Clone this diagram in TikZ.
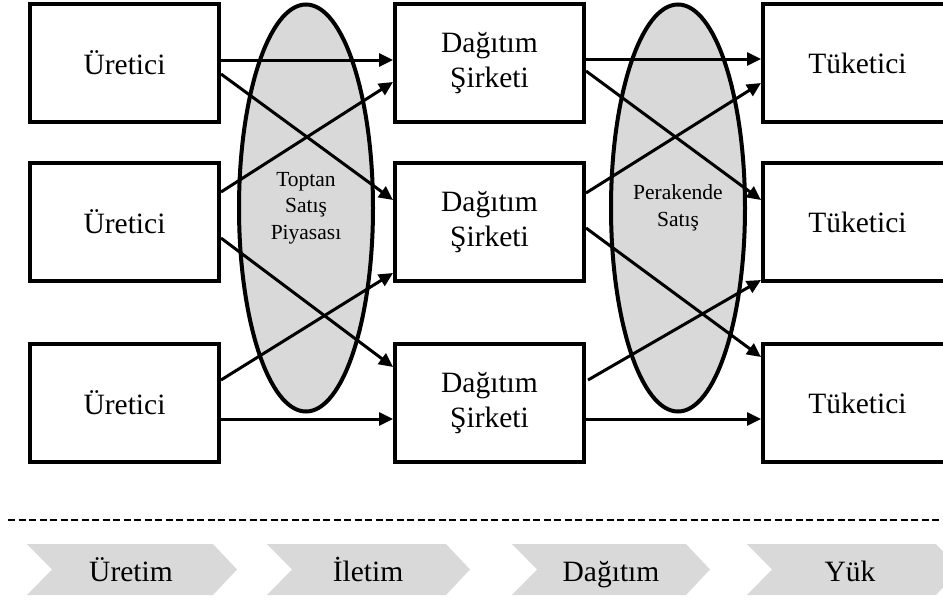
\documentclass[tikz,border=0pt]{standalone}
\usepackage{fontspec}
\setmainfont{Liberation Serif}
\usetikzlibrary{arrows.meta,shapes.geometric}
\definecolor{palegray}{RGB}{217,217,217}
\begin{document}
\begin{tikzpicture}[x=1pt,y=-1pt,
  boxnode/.style={draw, line width=4pt, fill=white, minimum width=189pt,
    minimum height=118pt, inner sep=0pt, align=center,
    font=\fontsize{29.5}{35.5}\selectfont},
  market/.style={ellipse, draw, line width=4pt, fill=palegray, minimum width=134pt,
    minimum height=407pt, inner sep=0pt, align=center,
    font=\fontsize{21.5}{26.5}\selectfont},
  flow/.style={line width=3pt, -{Triangle[length=14pt,width=13pt]}},
  stagebody/.style={fill=palegray},
  stagetext/.style={anchor=base, inner sep=0pt,
    font=\fontsize{29.5}{35.5}\selectfont}]
\clip (0,0) rectangle (943,600);

% markets between the columns
\node[market] (wholesale) at (306,208) {Toptan\\Satış\\Piyasası};
\node[market] (retail) at (678,208) {Perakende\\Satış};

% producers, distributors, consumers
\node[boxnode] (u1) at (124.5,63) {Üretici};
\node[boxnode] (u2) at (124.5,222) {Üretici};
\node[boxnode] (u3) at (124.5,403) {Üretici};
\node[boxnode] (d1) at (489.5,63) {Dağıtım\\Şirketi};
\node[boxnode] (d2) at (489.5,222) {Dağıtım\\Şirketi};
\node[boxnode] (d3) at (489.5,403) {Dağıtım\\Şirketi};
\node[boxnode] (t1) at (857.5,63) {Tüketici};
\node[boxnode] (t2) at (857.5,222) {Tüketici};
\node[boxnode] (t3) at (857.5,403) {Tüketici};

% producer -> distributor flows
\draw[flow] ([yshift=3pt]u1.east) -- ([yshift=3pt]d1.west);
\draw[flow] ([yshift=-11pt]u1.east) -- ([yshift=22pt]d2.west);
\draw[flow] ([yshift=30pt]u2.east) -- ([yshift=-19pt]d1.west);
\draw[flow] ([yshift=-16pt]u2.east) -- ([yshift=36pt]d3.west);
\draw[flow] ([yshift=23pt]u3.east) -- ([yshift=-51pt]d2.west);
\draw[flow] ([yshift=-16pt]u3.east) -- ([yshift=-16pt]d3.west);

% distributor -> consumer flows
\draw[flow] ([yshift=4pt]d1.east) -- ([yshift=4pt]t1.west);
\draw[flow] ([yshift=-8pt]d1.east) -- ([yshift=22pt]t2.west);
\draw[flow] ([yshift=29pt]d2.east) -- ([yshift=-20pt]t1.west);
\draw[flow] ([yshift=-6pt]d2.east) -- ([yshift=46pt]t3.west);
\draw[flow] ([xshift=2pt,yshift=23pt]d3.east) -- ([yshift=-58pt]t2.west);
\draw[flow] ([yshift=-16pt]d3.east) -- ([yshift=-16pt]t3.west);

% separator
\draw[line width=2pt, dash pattern=on 7pt off 3.5pt] (8,520) -- (943,520);

% value chain stages
\foreach \a/\b in {27/237, 267/470, 512/710, 747/960}
  \fill[stagebody] (\a,544) -- (\b-24,544) -- (\b,569.5) -- (\b-24,595)
    -- (\a,595) -- (\a+25,569.5) -- cycle;
\node[stagetext] (s1) at (131,581) {Üretim};
\node[stagetext] (s2) at (368,581) {İletim};
\node[stagetext] (s3) at (611,581) {Dağıtım};
\node[stagetext] (s4) at (850,581) {Yük};
\end{tikzpicture}
\end{document}
